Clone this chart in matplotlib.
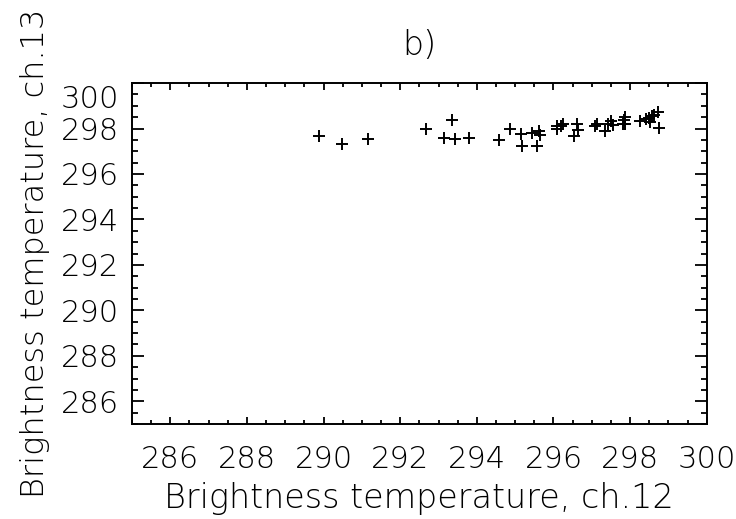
import matplotlib
matplotlib.use('Agg')
import matplotlib.pyplot as plt
import matplotlib.transforms as mtransforms
from matplotlib.ticker import MultipleLocator

# brightness temperatures (K)
tb_ch12 = [289.87, 290.48, 291.16, 292.68, 293.13, 293.34, 293.42, 293.79,
           294.58, 294.87, 295.15, 295.17, 295.43, 295.58, 295.62, 295.65,
           296.08, 296.10, 296.19, 296.24, 296.53, 296.62, 296.64, 297.08,
           297.13, 297.35, 297.43, 297.49, 297.56, 297.81, 297.84, 297.87,
           297.87, 298.25, 298.41, 298.48, 298.53, 298.57, 298.62, 298.72,
           298.75]
tb_ch13 = [297.69, 297.34, 297.56, 297.96, 297.59, 298.37, 297.55, 297.60,
           297.50, 297.96, 297.75, 297.25, 297.81, 297.25, 297.91, 297.71,
           298.13, 297.96, 298.10, 298.18, 297.69, 298.22, 297.93, 298.13,
           298.21, 297.90, 298.22, 298.32, 298.16, 298.22, 298.37, 298.50,
           298.18, 298.35, 298.43, 298.48, 298.28, 298.54, 298.60, 298.72,
           298.03]
ticks = [286, 288, 290, 292, 294, 296, 298, 300]

plt.rcParams['font.family'] = 'DejaVu Sans'
plt.rcParams['font.weight'] = 'light'
plt.rcParams['axes.labelweight'] = 'light'
plt.rcParams['axes.titleweight'] = 'light'
plt.rcParams['font.size'] = 22
plt.rcParams['xtick.direction'] = 'in'
plt.rcParams['ytick.direction'] = 'in'

fig = plt.figure(figsize=(7.36, 5.19), dpi=100)
ax = fig.add_axes([0.1793, 0.183, 0.781, 0.657])

ax.plot(tb_ch12, tb_ch13, linestyle='none', marker='+', markersize=8,
        markeredgewidth=1.4, color='k')

ax.set_xlim(285, 300)
ax.set_ylim(285, 300)
ax.set_xticks(ticks)
ax.set_yticks(ticks)
ax.xaxis.set_minor_locator(MultipleLocator(0.5))
ax.yaxis.set_minor_locator(MultipleLocator(0.5))
ax.tick_params(which='both', top=True, right=True, width=1.3, color='k', labelsize=22)
ax.tick_params(axis='x', which='major', length=5, pad=15)
ax.tick_params(axis='x', which='minor', length=2.9)
ax.tick_params(axis='y', which='major', length=8.6, pad=9)
ax.tick_params(axis='y', which='minor', length=4.3)
for s in ax.spines.values():
    s.set_linewidth(1.4)

ax.set_title('b)', fontsize=24, pad=20)
ax.set_xlabel('Brightness temperature, ch.12', fontsize=24, labelpad=6)
ax.set_ylabel('Brightness temperature, ch.13', fontsize=23, labelpad=8)

# top y label sits lower, like the original
fig.canvas.draw()
lab = ax.get_yticklabels()[-1]
lab.set_transform(lab.get_transform() + mtransforms.ScaledTranslation(0, -13/100, fig.dpi_scale_trans))

plt.savefig('out.png', dpi=100)
